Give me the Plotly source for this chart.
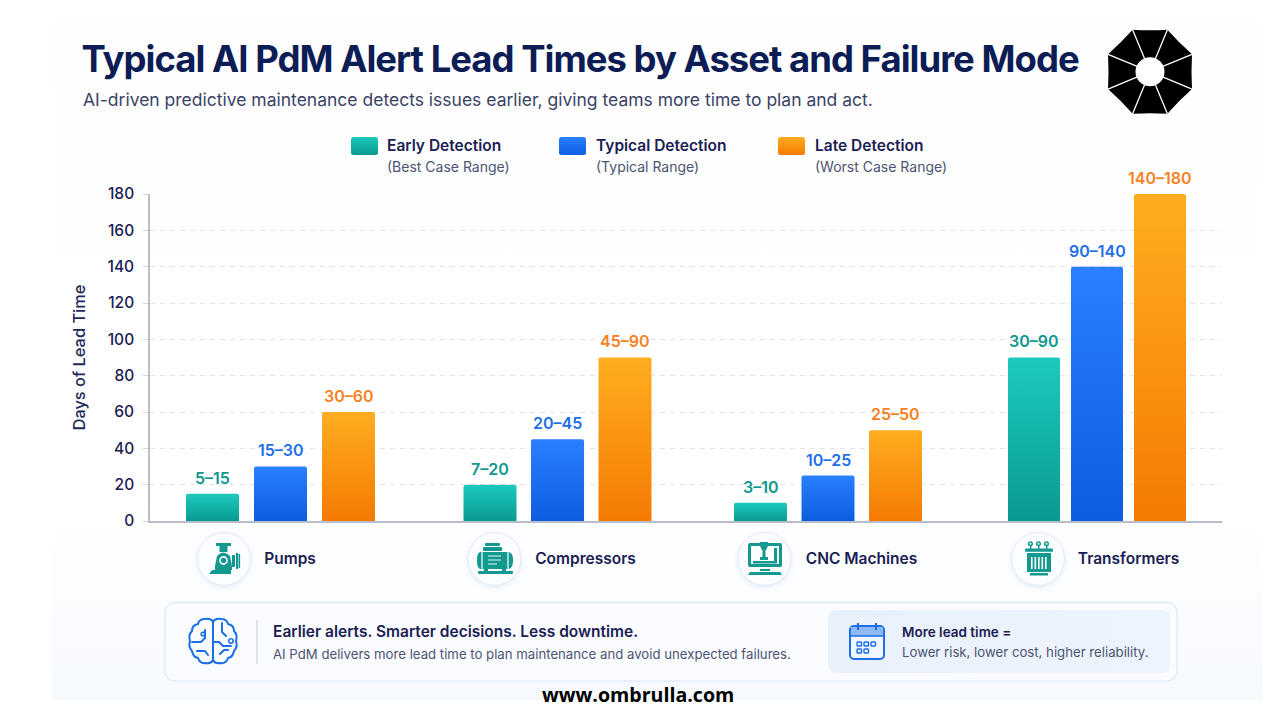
import base64
import math
import plotly.graph_objects as go

# ---- chart data -------------------------------------------------------
ASSETS = ["Pumps", "Compressors", "CNC Machines", "Transformers"]
EARLY_LABELS = ["5–15", "7–20", "3–10", "30–90"]
TYPICAL_LABELS = ["15–30", "20–45", "10–25", "90–140"]
LATE_LABELS = ["30–60", "45–90", "25–50", "140–180"]
# Each bar reaches the upper end of its labelled range, in days
EARLY_DAYS = [15, 20, 10, 90]
TYPICAL_DAYS = [30, 45, 25, 140]
LATE_DAYS = [60, 90, 50, 180]
Y_TICKS = [0, 20, 40, 60, 80, 100, 120, 140, 160, 180]

# ---- layout of the groups (the x axis runs in canvas pixels) -----------
W, H = 1280, 720
PLOT_L, PLOT_R, PLOT_T, PLOT_B = 150, 1222, 194, 521
GROUP_CENTRES = [280.5, 557.5, 828, 1097]
GROUP_PITCH = [68, 67.5, 67.5, 63]
BAR_WIDTHS = [53, 53, 53, 52]
ASSET_LABEL_X = [290, 585.5, 861.5, 1128.5]

NAVY = "#0c1d56"
INK = "#1a2053"
GREY = "#4c5472"
TEAL = "#10978e"
BLUE = "#1f6fe8"
ORANGE = "#f5821f"
ICON = "#13998f"
LINE = "#1b6fe6"
FONT = "Inter, sans-serif"

SERIES = [
    ("Early Detection", EARLY_DAYS, EARLY_LABELS, -1, "#12ada5", TEAL),
    ("Typical Detection", TYPICAL_DAYS, TYPICAL_LABELS, 0, "#1c6df0", BLUE),
    ("Late Detection", LATE_DAYS, LATE_LABELS, 1, "#fb9410", ORANGE),
]
GRADIENTS = [("#1cc9bc", "#0a9a93"), ("#2a80ff", "#0d5ede"), ("#ffad20", "#f47a02")]


def umbrella_logo(cx, cy, radius, hole):
    """Octagonal canopy split into eight panels around a round hub."""
    pts = []
    for i in range(8):
        a = math.radians(22.5 + 45 * i)
        pts.append((cx + radius * math.cos(a), cy + radius * math.sin(a)))
    parts = []
    d = f"M{pts[0][0]:.1f},{pts[0][1]:.1f}"
    for i in range(1, 9):
        p, q = pts[i - 1], pts[i % 8]
        mx, my = (p[0] + q[0]) / 2, (p[1] + q[1]) / 2
        qx, qy = cx + (mx - cx) * 0.975, cy + (my - cy) * 0.975
        d += f"Q{qx:.1f},{qy:.1f} {q[0]:.1f},{q[1]:.1f}"
    parts.append(f'<path d="{d}Z" fill="#000"/>')
    for x, y in pts:
        parts.append(f'<line x1="{cx}" y1="{cy}" x2="{x:.1f}" y2="{y:.1f}" stroke="#fff" stroke-width="1.3"/>')
    parts.append(f'<circle cx="{cx}" cy="{cy}" r="{hole}" fill="#fff"/>')
    return "".join(parts)


def badge(cx, cy):
    return f'<circle cx="{cx}" cy="{cy}" r="26.5" fill="#fbfdff" stroke="#e4ebf7" stroke-width="1" filter="url(#soft)"/>'


PUMP = f'''<g fill="{ICON}">
<rect x="216" y="543" width="15" height="3"/><rect x="219.5" y="546" width="8" height="6"/>
<path d="M217,556 Q223,549 230,556 L232,566 L232,570 L215,570 L215,566Z"/>
<rect x="232" y="555" width="3" height="12"/><rect x="236" y="553" width="2" height="16"/><rect x="238.5" y="554" width="1.6" height="14"/>
<path d="M212,570 L231,570 L231,574 L209,574Z"/></g>
<circle cx="223.5" cy="560.5" r="3.6" fill="none" stroke="#fff" stroke-width="1.6"/>'''

COMPRESSOR = f'''<g fill="{ICON}">
<rect x="485" y="543" width="15" height="3" rx="1"/><rect x="483" y="547" width="19" height="4" rx="1"/>
<path d="M480,552 H509 Q513,553 513,560 Q513,568 509,569 H480 Q477,568 477,560 Q477,553 480,552Z"/>
<rect x="478" y="571" width="35" height="3" rx="1"/><rect x="484" y="569" width="4" height="2"/><rect x="502" y="569" width="4" height="2"/></g>
<g stroke="#fff" stroke-width="1.2" fill="none"><line x1="482" y1="552" x2="482" y2="569"/><line x1="508" y1="552" x2="508" y2="569"/></g>
<g stroke="#bfe7e3" stroke-width="1.2"><line x1="488" y1="556" x2="501" y2="556"/><line x1="488" y1="560" x2="501" y2="560"/><line x1="488" y1="564" x2="497" y2="564"/></g>'''

CNC = f'''<g fill="{ICON}"><path fill-rule="evenodd" d="M750,543 H780 Q782,543 782,545 V565 Q782,567 780,567 H750 Q748,567 748,565 V545 Q748,543 750,543Z M751,546 V564 H779 V546Z"/>
<path d="M760,542 H768 V546 L766,550 H765.5 V557 H768 V560 H760 V557 H762.5 V550 H762 L760,546Z"/>
<rect x="774" y="548" width="3" height="13"/><rect x="753" y="561" width="24" height="2.5"/>
<rect x="760" y="569" width="10" height="2"/><path d="M750,572 H780 L782,575 H748Z"/></g>'''

TRANSFORMER_BARS = "".join(
    f'<rect x="{x}" y="557" width="1.6" height="12" fill="#fff"/>' for x in (1031, 1034.5, 1038, 1041.5, 1045)
)
TRANSFORMER = f'''<g fill="none" stroke="{ICON}" stroke-width="1.5"><circle cx="1030.5" cy="543.8" r="1.8"/><circle cx="1038.5" cy="543.8" r="1.8"/><circle cx="1046.5" cy="543.8" r="1.8"/></g>
<g fill="{ICON}"><rect x="1030" y="545" width="1.4" height="4"/><rect x="1038" y="545" width="1.4" height="4"/><rect x="1046" y="545" width="1.4" height="4"/>
<rect x="1025" y="548.5" width="28" height="3.2" rx="0.8"/><rect x="1027" y="553" width="24" height="19"/><rect x="1030" y="573" width="18" height="2.5"/></g>{TRANSFORMER_BARS}'''

BRAIN = f'''<g fill="none" stroke="{LINE}" stroke-width="2" stroke-linecap="round" stroke-linejoin="round">
<path d="M213,622 Q211,618 205,619 Q199,619 198,624 Q192,625 192,631 Q188,635 190,641 Q188,647 192,651 Q193,657 198,658 Q200,664 206,663 Q211,664 213,660 Z"/>
<path d="M213,622 Q215,618 221,619 Q227,619 228,624 Q234,625 234,631 Q238,635 236,641 Q238,647 234,651 Q233,657 228,658 Q226,664 220,663 Q215,664 213,660"/>
<path d="M192,642 H201 L205,638 V630"/><path d="M197,651 H205 L208,655"/><path d="M222,623 V632 L226,636"/><path d="M213,642 H219 L223,646 H231"/><path d="M220,654 L224,650 H228"/>
</g><g fill="#fff" stroke="{LINE}" stroke-width="1.6"><circle cx="203" cy="634" r="1.8"/><circle cx="231" cy="641" r="2.2"/></g>'''

CAL_CELLS = "".join(
    f'<rect x="{x}" y="{y}" width="4.5" height="4" rx="0.8" fill="none" stroke="{LINE}" stroke-width="1.4"/>'
    for x, y in ((857, 642), (864, 642), (871, 642), (857, 649), (864, 649))
)
CALENDAR = f'''<rect x="850" y="626" width="34" height="33" rx="4" fill="#f1f6fe" stroke="{LINE}" stroke-width="2"/>
<path d="M851,627 H883 V636 H851Z" fill="#8fb9f5"/><line x1="850" y1="636" x2="884" y2="636" stroke="{LINE}" stroke-width="1.6"/>
<line x1="858" y1="623" x2="858" y2="630" stroke="{LINE}" stroke-width="2"/><line x1="876" y1="623" x2="876" y2="630" stroke="{LINE}" stroke-width="2"/>{CAL_CELLS}'''


def swatch(x, y, w, h, idx):
    return f'<rect x="{x}" y="{y}" width="{w}" height="{h}" rx="2.5" fill="url(#sw{idx})"/>'


sw_defs = "".join(
    f'<linearGradient id="sw{i}" x1="0" y1="0" x2="0" y2="1"><stop offset="0" stop-color="{a}"/><stop offset="1" stop-color="{b}"/></linearGradient>'
    for i, (a, b) in enumerate(GRADIENTS)
)

backdrop = f'''<svg xmlns="http://www.w3.org/2000/svg" width="{W}" height="{H}" viewBox="0 0 {W} {H}">
<defs>{sw_defs}
<linearGradient id="page" x1="0" y1="0" x2="0" y2="1"><stop offset="0" stop-color="#fefefe"/><stop offset="0.72" stop-color="#ffffff"/><stop offset="0.84" stop-color="#fbfdff"/><stop offset="1" stop-color="#f6f9fe"/></linearGradient>
<linearGradient id="tip" x1="0" y1="0" x2="1" y2="0"><stop offset="0" stop-color="#e9f1fd"/><stop offset="1" stop-color="#eef4fd"/></linearGradient>
<filter id="soft" x="-30%" y="-30%" width="160%" height="160%"><feDropShadow dx="0" dy="1" stdDeviation="2" flood-color="#9db8e6" flood-opacity="0.3"/></filter>
</defs>
<rect x="52" y="20" width="1210" height="680" fill="url(#page)"/>
{umbrella_logo(1150, 71.7, 45.5, 14.5)}
{swatch(351, 137, 27, 18, 0)}{swatch(559, 137, 27, 18, 1)}{swatch(778, 137, 27, 18, 2)}
{badge(224, 559)}{badge(494.5, 559)}{badge(764.5, 559)}{badge(1038, 559)}
{PUMP}{COMPRESSOR}{CNC}{TRANSFORMER}
<rect x="165" y="602.5" width="1012" height="78.5" rx="10" fill="#fbfcff" stroke="#d6e3f8" stroke-width="1"/>
<line x1="257" y1="620" x2="257" y2="664" stroke="#d3d9e8" stroke-width="1.4"/>
<rect x="828" y="610" width="342" height="63" rx="8" fill="url(#tip)"/>
{BRAIN}{CALENDAR}
</svg>'''
backdrop_uri = "data:image/svg+xml;base64," + base64.b64encode(backdrop.encode()).decode()

fig = go.Figure()
value_labels = []
for name, days, labels, side, colour, text_colour in SERIES:
    xs = [c + side * p for c, p in zip(GROUP_CENTRES, GROUP_PITCH)]
    fig.add_trace(go.Bar(
        name=name,
        x=xs,
        y=days,
        width=BAR_WIDTHS,
        marker=dict(color=colour, cornerradius=2, line=dict(width=0)),
        hoverinfo="skip",
        showlegend=False,
    ))
    # Range labels sit a fixed distance above each bar
    for x, d, label in zip(xs, days, labels):
        value_labels.append(dict(
            text=label, xref="x", yref="y", x=x, y=d, yshift=16,
            xanchor="center", yanchor="middle", showarrow=False, borderpad=0,
            font=dict(family=FONT, size=16, color=text_colour, weight=600),
        ))


def note(text, x, y, size, colour, weight=400, family=FONT, anchor="left"):
    return dict(
        text=text, xref="paper", yref="paper", x=x / W, y=1 - y / H,
        xanchor=anchor, yanchor="middle", showarrow=False, borderpad=0,
        font=dict(family=family, size=size, color=colour, weight=weight),
    )


annotations = value_labels + [
    note("Typical AI PdM Alert Lead Times by Asset and Failure Mode", 580, 59, 36.5, NAVY, 700, anchor="center"),
    note("AI-driven predictive maintenance detects issues earlier, giving teams more time to plan and act.", 82, 100, 17.5, "#3a4366"),
    note("Early Detection", 386, 146, 15.5, INK, 600),
    note("(Best Case Range)", 386, 166, 14, GREY),
    note("Typical Detection", 595, 146, 15.5, INK, 600),
    note("(Typical Range)", 595, 166, 14, GREY),
    note("Late Detection", 814, 146, 15.5, INK, 600),
    note("(Worst Case Range)", 814, 166, 14, GREY),
    note("Earlier alerts. Smarter decisions. Less downtime.", 272, 631, 15.5, INK, 600),
    note("AI PdM delivers more lead time to plan maintenance and avoid unexpected failures.", 272, 654, 13.2, GREY),
    note("More lead time =", 901, 632, 13.5, INK, 600),
    note("Lower risk, lower cost, higher reliability.", 901, 652, 13.2, GREY),
    note("www.ombrulla.com", 638, 694, 19.6, "#000000", 700, "Open Sans, sans-serif", "center"),
]

fig.update_layout(
    width=W, height=H,
    margin=dict(l=0, r=0, t=0, b=0, autoexpand=False),
    paper_bgcolor="#ffffff",
    plot_bgcolor="rgba(0,0,0,0)",
    barmode="overlay",
    hovermode=False,
    annotations=annotations,
    images=[dict(source=backdrop_uri, xref="paper", yref="paper", x=0, y=1, sizex=1, sizey=1,
                 sizing="stretch", xanchor="left", yanchor="top", layer="below")],
    xaxis=dict(
        domain=[PLOT_L / W, PLOT_R / W], range=[PLOT_L, PLOT_R], automargin=False,
        tickmode="array", tickvals=ASSET_LABEL_X, ticktext=ASSETS,
        ticks="", ticklabelstandoff=23, showgrid=False, zeroline=False,
        showline=True, linecolor="#b9bcca", linewidth=1.5,
        tickfont=dict(family=FONT, size=15.5, color=INK, weight=600),
    ),
    yaxis=dict(
        domain=[1 - PLOT_B / H, 1 - PLOT_T / H], range=[0, 180], automargin=False,
        tickmode="array", tickvals=Y_TICKS,
        ticks="outside", ticklen=5, tickcolor="#d0d3dc", tickwidth=1, ticklabelstandoff=6,
        showgrid=True, gridcolor="#e1e3e9", griddash="5px,5px", gridwidth=1,
        zeroline=False, showline=True, linecolor="#b9bcca", linewidth=1.5,
        tickfont=dict(family=FONT, size=15.5, color=INK, weight=500),
        title=dict(text="Days of Lead Time", standoff=18,
                   font=dict(family=FONT, size=16.4, color="#1e2a5a", weight=500)),
    ),
)

# Vertical colour ramp on the bars and tighter tracking on the headline,
# applied after each redraw
stops = ",".join(f'["{a}","{b}"]' for a, b in GRADIENTS)
post_script = """
var gd = document.getElementById('{plot_id}');
var ramps = [%s];
function finishStyling() {
  var svg = gd.querySelector('.main-svg');
  var ns = 'http://www.w3.org/2000/svg';
  var defs = svg.querySelector('defs');
  ramps.forEach(function (r, i) {
    if (svg.querySelector('#barRamp' + i)) return;
    var g = document.createElementNS(ns, 'linearGradient');
    g.setAttribute('id', 'barRamp' + i);
    g.setAttribute('x1', '0'); g.setAttribute('y1', '0');
    g.setAttribute('x2', '0'); g.setAttribute('y2', '1');
    r.forEach(function (c, k) {
      var s = document.createElementNS(ns, 'stop');
      s.setAttribute('offset', String(k));
      s.setAttribute('stop-color', c);
      g.appendChild(s);
    });
    defs.appendChild(g);
  });
  gd.querySelectorAll('.barlayer .trace').forEach(function (t, i) {
    t.querySelectorAll('path').forEach(function (p) {
      p.style.setProperty('fill', 'url(#barRamp' + i + ')');
    });
  });
  gd.querySelectorAll('.annotation-text').forEach(function (t) {
    if (t.textContent.indexOf('Typical AI PdM') === 0) {
      t.style.setProperty('letter-spacing', '-1px');
    }
  });
}
finishStyling();
gd.on('plotly_afterplot', finishStyling);
""" % stops

fig.write_html("out.html", post_script=post_script, config={"displayModeBar": False})
